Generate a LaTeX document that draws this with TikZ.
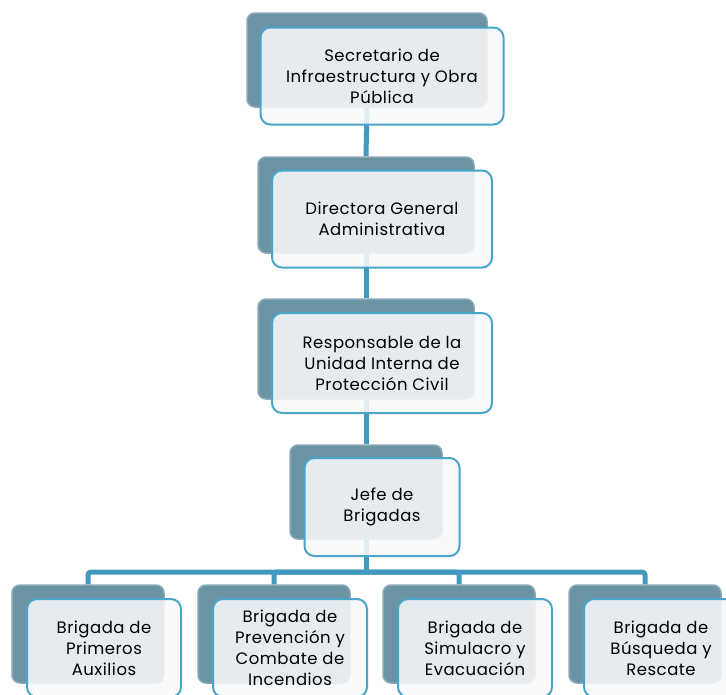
\documentclass[tikz,border=0pt]{standalone}
\usepackage{fontspec}
\setmainfont[LetterSpace=3]{Poppins}
\usetikzlibrary{positioning,backgrounds}
\definecolor{linkblue}{HTML}{4299BD}
\definecolor{edgeblue}{HTML}{4BA5C9}
\definecolor{backteal}{HTML}{6A94A3}
\definecolor{frontfill}{HTML}{F7F8FA}

\begin{document}
\begin{tikzpicture}[x=1pt,y=-1pt,
backbox/.style={rectangle, rounded corners=8pt, fill=backteal, draw=backteal!80!white, line width=1.5pt},
frontbox/.style={rectangle, rounded corners=10pt, draw=edgeblue, line width=2pt, fill=frontfill, fill opacity=0.88, text opacity=1, align=center, font=\fontsize{16.5}{21}\selectfont},
link/.style={draw=linkblue, line width=5pt, rounded corners=3pt},
]
\useasboundingbox (0,0) rectangle (726,694);

\node[backbox, minimum width=240pt, minimum height=94pt] (secb)  at (367,60)  {};
\node[backbox, minimum width=216pt, minimum height=96pt] (dirb)  at (366,205) {};
\node[backbox, minimum width=216pt, minimum height=100pt] (respb) at (366,349) {};
\node[backbox, minimum width=152pt, minimum height=94pt] (jefeb) at (366,492) {};
\node[backbox, minimum width=152pt, minimum height=98pt] (primb) at (88,634)  {};
\node[backbox, minimum width=152pt, minimum height=98pt] (prevb) at (274,634) {};
\node[backbox, minimum width=152pt, minimum height=98pt] (simb)  at (459,634) {};
\node[backbox, minimum width=152pt, minimum height=98pt] (busqb) at (645,634) {};

\node[frontbox, minimum width=243pt, minimum height=97pt] (sec)  at (382,76)  {Secretario de\\Infraestructura y Obra\\Pública};
\node[frontbox, minimum width=220pt, minimum height=97pt] (dir)  at (382,219) {Directora General\\Administrativa};
\node[frontbox, minimum width=220pt, minimum height=100pt] (resp) at (382,363) {Responsable de la\\Unidad Interna de\\Protección Civil};
\node[frontbox, minimum width=155pt, minimum height=98pt] (jefe) at (382,507) {Jefe de\\Brigadas};
\node[frontbox, minimum width=154pt, minimum height=98pt] (prim) at (104,648) {Brigada de\\Primeros\\Auxilios};
\node[frontbox, minimum width=154pt, minimum height=98pt] (prev) at (290,648) {Brigada de\\Prevención y\\Combate de\\Incendios};
\node[frontbox, minimum width=154pt, minimum height=98pt] (sim)  at (475,648) {Brigada de\\Simulacro y\\Evacuación};
\node[frontbox, minimum width=154pt, minimum height=98pt] (busq) at (661,648) {Brigada de\\Búsqueda y\\Rescate};

\coordinate (bus) at (366,572);

\begin{pgfonlayer}{background}
\draw[link] (secb.south) -- (dirb.north);
\draw[link] (dirb.south) -- (respb.north);
\draw[link] (respb.south) -- (jefeb.north);
\draw[link] (jefeb.south) -- (bus);
\draw[link] (bus) -| (primb.north);
\draw[link] (bus) -| (prevb.north);
\draw[link] (bus) -| (simb.north);
\draw[link] (bus) -| (busqb.north);
\end{pgfonlayer}

\end{tikzpicture}
\end{document}
